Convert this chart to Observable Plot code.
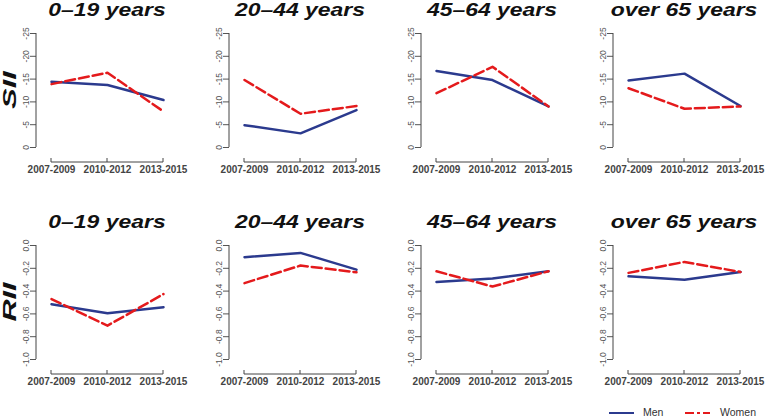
<!DOCTYPE html>
<html><head><meta charset="utf-8">
<script src="https://cdn.jsdelivr.net/npm/d3@7"></script>
<script src="https://cdn.jsdelivr.net/npm/@observablehq/plot@0.6"></script>
<style>
body{margin:0;background:#fff;}
#chart{position:relative;width:765px;height:420px;overflow:hidden;font-family:"Liberation Sans",Arial,sans-serif;background:#fff;}
.panel{position:absolute;}
.title{position:absolute;font-weight:bold;font-style:italic;font-size:18.5px;line-height:18px;color:#111;white-space:nowrap;transform:translateX(-50%) scaleX(1.24);}
.rowlab{position:absolute;font-weight:bold;font-style:italic;font-size:18px;line-height:18px;color:#111;white-space:nowrap;transform:translate(-50%,-50%) rotate(-90deg) scaleX(1.7);}
.leg{position:absolute;font-size:10.5px;color:#333;white-space:nowrap;}
</style>
</head><body>
<div id="chart"></div>
<script>
// ---- data ----
const periods = ["2007-2009", "2010-2012", "2013-2015"];
const ageGroups = ["0–19 years", "20–44 years", "45–64 years", "over 65 years"];
const sexes = ["Men", "Women"];
const rowLabels = ["SII", "RII"];
// Slope index of inequality, one array per age group: [2007-2009, 2010-2012, 2013-2015]
const siiMen   = [[-14.4, -13.7, -10.4], [-4.9, -3.1, -8.2], [-16.8, -14.8, -9.0], [-14.7, -16.2, -9.1]];
const siiWomen = [[-13.9, -16.4, -7.9],  [-14.8, -7.4, -9.1], [-11.9, -17.7, -9.0], [-13.0, -8.5, -9.0]];
// Relative index of inequality
const riiMen   = [[-0.515, -0.594, -0.541], [-0.103, -0.065, -0.212], [-0.32, -0.29, -0.226], [-0.27, -0.30, -0.232]];
const riiWomen = [[-0.47, -0.703, -0.426],  [-0.33, -0.176, -0.235],  [-0.226, -0.36, -0.226], [-0.24, -0.144, -0.232]];
const siiTicks = [0, -5, -10, -15, -20, -25];
const riiTicks = [-1.0, -0.8, -0.6, -0.4, -0.2, 0.0];

// ---- style ----
const menColor = "#2B3A8E";
const womenColor = "#E41A1C";
const colLeft = [0, 193, 385, 577];
const rowTop = [0, 212];
const W = 188, H = 185;

function rowsFor(men, women) {
  const out = [];
  periods.forEach((p, i) => {
    out.push({period: p, sex: sexes[0], value: men[i]});
    out.push({period: p, sex: sexes[1], value: women[i]});
  });
  return out;
}

function axisLines(yTicks) {
  return (index, scales, values, dims) => {
    const {x, y} = scales;
    const g = d3.create("svg:g").attr("stroke", "#444").attr("fill", "none").attr("stroke-width", 1);
    const left = dims.marginLeft;
    const ys = yTicks.map(y);
    g.append("line").attr("x1", left).attr("x2", left).attr("y1", d3.min(ys)).attr("y2", d3.max(ys));
    const yb = d3.max(ys) + 15;
    const xs = periods.map(x);
    g.append("line").attr("x1", xs[0]).attr("x2", xs[xs.length - 1]).attr("y1", yb).attr("y2", yb);
    xs.forEach(v => g.append("line").attr("x1", v).attr("x2", v).attr("y1", yb).attr("y2", yb - 4));
    return g.node();
  };
}

function makePanel(rows, yDomain, yTicks, fmt) {
  return Plot.plot({
    width: W, height: H,
    marginLeft: 36, marginRight: 11, marginTop: 33, marginBottom: 38,
    x: {type: "point", domain: periods, padding: 0, insetLeft: 14, insetRight: 14},
    y: {domain: yDomain},
    style: {fontFamily: "Liberation Sans, Arial, sans-serif", background: "transparent", overflow: "visible"},
    marks: [
      Plot.axisY({ticks: yTicks, tickSize: 6, tickRotate: -90, tickPadding: 2, fontSize: 8.5, tickFormat: fmt, color: "#555", label: null}),
      Plot.axisX({tickSize: 0, tickPadding: 18, fontSize: 10, fontWeight: "bold", color: "#444", label: null}),
      axisLines(yTicks),
      Plot.line(rows.filter(d => d.sex === "Men"), {x: "period", y: "value", stroke: menColor, strokeWidth: 2.5}),
      Plot.line(rows.filter(d => d.sex === "Women"), {x: "period", y: "value", stroke: womenColor, strokeWidth: 2.5, strokeDasharray: "10,4"})
    ]
  });
}

const chart = document.getElementById("chart");
const measures = [
  {men: siiMen, women: siiWomen, domain: [0, -25], ticks: siiTicks, fmt: d => String(d)},
  {men: riiMen, women: riiWomen, domain: [-1, 0], ticks: riiTicks, fmt: d => d.toFixed(1)}
];

measures.forEach((m, r) => {
  ageGroups.forEach((g, c) => {
    const svg = makePanel(rowsFor(m.men[c], m.women[c]), m.domain, m.ticks, m.fmt);
    const wrap = document.createElement("div");
    wrap.className = "panel";
    wrap.style.left = colLeft[c] + "px";
    wrap.style.top = rowTop[r] + "px";
    wrap.appendChild(svg);
    chart.appendChild(wrap);
    const t = document.createElement("div");
    t.className = "title";
    t.textContent = g;
    t.style.left = (colLeft[c] + 36 + 14 + 56.5) + "px";
    t.style.top = (rowTop[r] + 1) + "px";
    chart.appendChild(t);
  });
  const lab = document.createElement("div");
  lab.className = "rowlab";
  lab.textContent = rowLabels[r];
  lab.style.left = "10px";
  lab.style.top = (rowTop[r] + 90) + "px";
  chart.appendChild(lab);
});

// legend
function legendItem(x, label, color, dash, textX) {
  const s = d3.create("svg").attr("width", 26).attr("height", 6)
    .style("position", "absolute").style("left", x + "px").style("top", "410px");
  s.append("line").attr("x1", 0).attr("x2", 25).attr("y1", 3).attr("y2", 3)
    .attr("stroke", color).attr("stroke-width", 2).attr("stroke-dasharray", dash);
  chart.appendChild(s.node());
  const t = document.createElement("div");
  t.className = "leg";
  t.textContent = label;
  t.style.left = textX + "px";
  t.style.top = "406px";
  chart.appendChild(t);
}
legendItem(609, sexes[0], menColor, null, 643);
legendItem(685, sexes[1], womenColor, "9,3,3,3", 720);
</script>
</body></html>
